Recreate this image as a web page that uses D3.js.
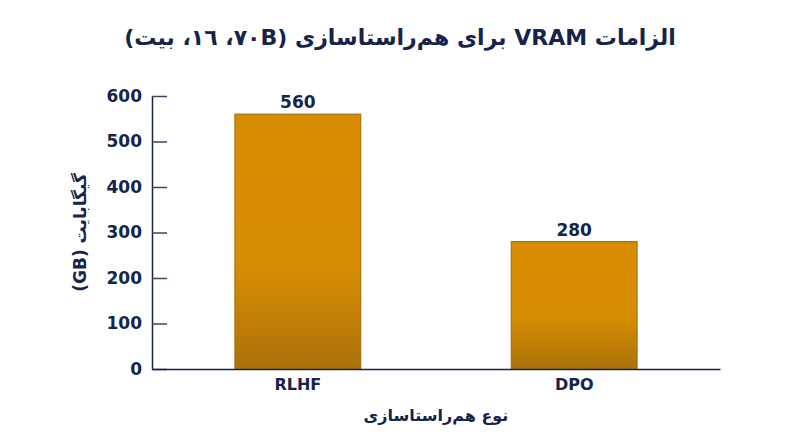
<!DOCTYPE html>
<html>
<head>
<meta charset="utf-8">
<script src="https://cdn.jsdelivr.net/npm/d3@7"></script>
<style>
  body { margin: 0; background: #fff; }
  text { font-family: "DejaVu Sans", sans-serif; font-weight: bold; fill: #16244a; }
</style>
</head>
<body>
<div id="viz"></div>
<script>
// chart data
const methods = ["RLHF", "DPO"];
const vramGB = [560, 280];
const yTicks = [0, 100, 200, 300, 400, 500, 600];
const titleText = "الزامات VRAM برای هم‌راستاسازی (٧٠B، ١٦، بیت)";
const xLabel = "نوع هم‌راستاسازی";
const yLabel = "گیگابایت (GB)";

const width = 800, height = 447;
const margin = { top: 96, right: 80, bottom: 78, left: 152 };
const ink = "#16244a";
const font = "'DejaVu Sans', sans-serif";

const svg = d3.select("#viz")
    .append("svg")
    .attr("width", width)
    .attr("height", height);

const defs = svg.append("defs");
const grad = defs.append("linearGradient")
    .attr("id", "barFill")
    .attr("x1", 0).attr("y1", 0).attr("x2", 0).attr("y2", 1);
grad.append("stop").attr("offset", "0%").attr("stop-color", "#d98c02");
grad.append("stop").attr("offset", "60%").attr("stop-color", "#d68d04");
grad.append("stop").attr("offset", "100%").attr("stop-color", "#ab710a");

const x = d3.scaleBand()
    .domain(methods)
    .range([margin.left, width - margin.right])
    .paddingInner(0.545)
    .paddingOuter(0.3);

const y = d3.scaleLinear()
    .domain([0, 600])
    .range([height - margin.bottom, margin.top]);

// title
svg.append("text")
    .attr("x", width / 2)
    .attr("y", 45)
    .attr("text-anchor", "middle")
    .attr("direction", "rtl")
    .style("font-size", "22px")
    .text(titleText);

// bars
svg.selectAll("rect.bar")
    .data(methods)
    .enter()
    .append("rect")
    .attr("class", "bar")
    .attr("x", d => x(d))
    .attr("y", (d, i) => y(vramGB[i]))
    .attr("width", x.bandwidth())
    .attr("height", (d, i) => y(0) - y(vramGB[i]))
    .attr("fill", "url(#barFill)")
    .attr("stroke", "#a6740f")
    .attr("stroke-width", 1.2);

// value labels
svg.selectAll("text.val")
    .data(methods)
    .enter()
    .append("text")
    .attr("class", "val")
    .attr("x", d => x(d) + x.bandwidth() / 2)
    .attr("y", (d, i) => y(vramGB[i]) - 6)
    .attr("text-anchor", "middle")
    .style("font-size", "17px")
    .text((d, i) => vramGB[i]);

// y axis
const yAxis = svg.append("g")
    .attr("transform", `translate(${margin.left},0)`)
    .call(d3.axisLeft(y).tickValues(yTicks).tickSizeInner(-15).tickSizeOuter(0).tickPadding(10));
yAxis.select(".domain").attr("stroke", ink).attr("stroke-width", 1.5);
yAxis.selectAll(".tick line").attr("stroke", "#3a4666").attr("stroke-width", 1.5);
yAxis.selectAll(".tick text")
    .attr("x", -10)
    .style("font-size", "17px")
    .style("font-family", font)
    .attr("fill", ink);

// x axis
const xAxis = svg.append("g")
    .attr("transform", `translate(0,${y(0)})`)
    .call(d3.axisBottom(x).tickSize(0).tickPadding(10));
xAxis.select(".domain").attr("stroke", ink).attr("stroke-width", 1.5);
xAxis.selectAll(".tick text")
    .style("font-size", "16px")
    .style("font-family", font)
    .attr("fill", ink);

// axis titles
svg.append("text")
    .attr("x", (margin.left + width - margin.right) / 2)
    .attr("y", 421)
    .attr("text-anchor", "middle")
    .attr("direction", "rtl")
    .style("font-size", "16px")
    .text(xLabel);

svg.append("text")
    .attr("transform", `translate(86,${(y(0) + y(600)) / 2}) rotate(-90)`)
    .attr("text-anchor", "middle")
    .attr("direction", "rtl")
    .style("font-size", "17px")
    .text(yLabel);
</script>
</body>
</html>
